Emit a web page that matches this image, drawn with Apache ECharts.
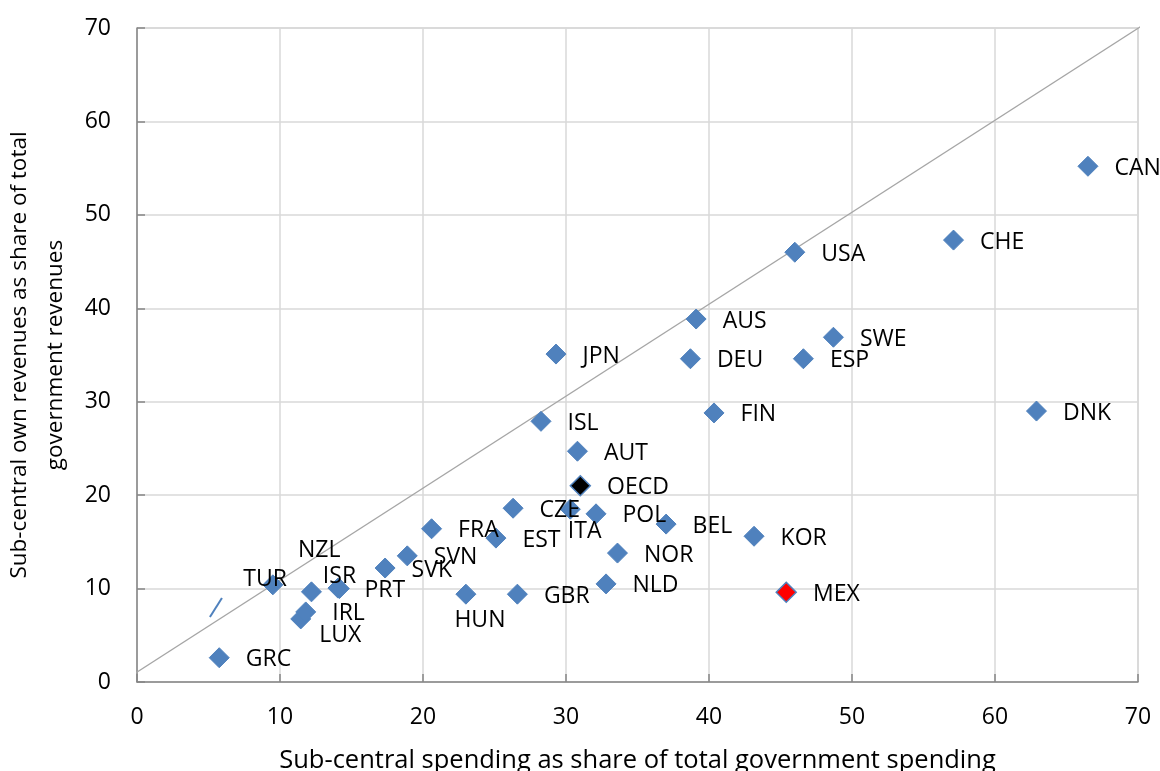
<!DOCTYPE html>
<html>
<head>
<meta charset="utf-8">
<script src="https://cdn.jsdelivr.net/npm/echarts@6/dist/echarts.min.js"></script>
<style>
  html, body { margin: 0; padding: 0; background: #fff; }
  #chart { width: 1160px; height: 771px; }
</style>
</head>
<body>
<div id="chart"></div>
<script>
// Country codes with sub-central spending share (x) and own-revenue share (y), in %
const codes = ['GRC','TUR','LUX','IRL','NZL','ISR','PRT','SVK','SVN','FRA','HUN','EST','CZE','GBR',
  'ISL','JPN','ITA','AUT','OECD','POL','NLD','NOR','BEL','DEU','AUS','FIN','KOR','MEX','USA','ESP',
  'SWE','CHE','DNK','CAN'];
const spendShare = [5.75, 9.5, 11.45, 11.8, 12.2, 14.15, 14.05, 17.35, 18.9, 20.6, 23.0, 25.1, 26.3, 26.6,
  28.25, 29.3, 30.3, 30.8, 31.0, 32.1, 32.8, 33.6, 37.0, 38.7, 39.1, 40.35, 43.15, 45.4, 46.0, 46.6,
  48.7, 57.1, 62.9, 66.5];
const revenueShare = [2.6, 10.4, 6.75, 7.5, 9.65, 10.0, 10.05, 12.2, 13.5, 16.4, 9.4, 15.4, 18.6, 9.4,
  27.9, 35.1, 18.5, 24.7, 21.0, 18.0, 10.5, 13.8, 16.9, 34.6, 38.85, 28.8, 15.6, 9.6, 46.0, 34.6,
  36.9, 47.3, 29.0, 55.2];

// Reference line and a short stroke near the origin
const diagonalLine = [[-5.87, -4.71], [71.2, 71.15]];
const shortStroke = [[5.1, 6.96], [5.94, 8.99]];

// Axis ticks
const xTicks = [0, 10, 20, 30, 40, 50, 60, 70];
const yTicks = [0, 10, 20, 30, 40, 50, 60, 70];

// Label nudges (pixels) for crowded points; others sit to the right of the marker
const labelNudge = {
  TUR: [-56, -7],
  NZL: [-40, -43],
  ISR: [-43, -14],
  LUX: [-8, 15],
  ITA: [-29, 20],
  HUN: [-38, 24]
};
// Marker fills that differ from the default blue
const markerFill = { OECD: '#000000', MEX: '#ff0000' };

const BLUE = '#4f81bd';
const FONT = 'Open Sans';

const points = codes.map((c, i) => {
  const item = { name: c, value: [spendShare[i], revenueShare[i]] };
  if (markerFill[c]) {
    item.itemStyle = { color: markerFill[c], borderColor: BLUE, borderWidth: 1.5 };
  }
  return item;
});

const chart = echarts.init(document.getElementById('chart'), null, { renderer: 'canvas' });

chart.setOption({
  animation: false,
  backgroundColor: '#ffffff',
  textStyle: { fontFamily: FONT, color: '#000' },
  grid: {
    left: 137, right: 22, top: 28, bottom: 89,
    containLabel: false,
    outerBoundsMode: 'none',
    show: true, borderColor: '#bfbfbf', borderWidth: 1
  },
  xAxis: {
    type: 'value',
    min: xTicks[0], max: xTicks[xTicks.length - 1], interval: xTicks[1] - xTicks[0],
    name: 'Sub-central spending as share of total government spending',
    nameLocation: 'middle',
    nameGap: 66,
    nameTextStyle: { fontFamily: FONT, fontSize: 25.5, color: '#000' },
    axisLine: { show: true, lineStyle: { color: '#868686', width: 1.5 } },
    axisTick: { show: true, inside: true, length: 8, lineStyle: { color: '#868686', width: 1.5 } },
    axisLabel: { fontFamily: FONT, fontSize: 23, color: '#000', margin: 24 },
    splitLine: { show: true, lineStyle: { color: '#d9d9d9', width: 1.5 } }
  },
  yAxis: {
    type: 'value',
    min: yTicks[0], max: yTicks[yTicks.length - 1], interval: yTicks[1] - yTicks[0],
    name: 'Sub-central own revenues as share of total\ngovernment revenues',
    nameLocation: 'middle',
    nameRotate: 90,
    nameGap: 58,
    nameTextStyle: { fontFamily: FONT, fontSize: 22.5, color: '#000', lineHeight: 36, align: 'center' },
    axisLine: { show: true, lineStyle: { color: '#868686', width: 1.5 } },
    axisTick: { show: true, inside: true, length: 8, lineStyle: { color: '#868686', width: 1.5 } },
    axisLabel: { fontFamily: FONT, fontSize: 23, color: '#000', margin: 26 },
    splitLine: { show: true, lineStyle: { color: '#d9d9d9', width: 1.5 } }
  },
  series: [
    {
      type: 'line',
      data: diagonalLine,
      clip: false,
      symbol: 'none',
      silent: true,
      lineStyle: { color: '#a6a6a6', width: 1.2 },
      z: 1
    },
    {
      type: 'line',
      data: shortStroke,
      clip: false,
      symbol: 'none',
      silent: true,
      lineStyle: { color: BLUE, width: 2 },
      z: 2
    },
    {
      type: 'scatter',
      data: points,
      symbol: 'diamond',
      symbolSize: 20,
      clip: false,
      itemStyle: { color: BLUE, borderColor: BLUE, borderWidth: 1, opacity: 1 },
      emphasis: { disabled: true },
      label: {
        show: true,
        position: 'right',
        distance: 16,
        formatter: p => p.name,
        fontFamily: FONT,
        fontSize: 23,
        color: '#000'
      },
      labelLayout: params => {
        const nudge = labelNudge[codes[params.dataIndex]] || [0, 0];
        return { dx: nudge[0], dy: 2 + nudge[1], hideOverlap: false };
      },
      z: 3
    }
  ]
});
</script>
</body>
</html>
